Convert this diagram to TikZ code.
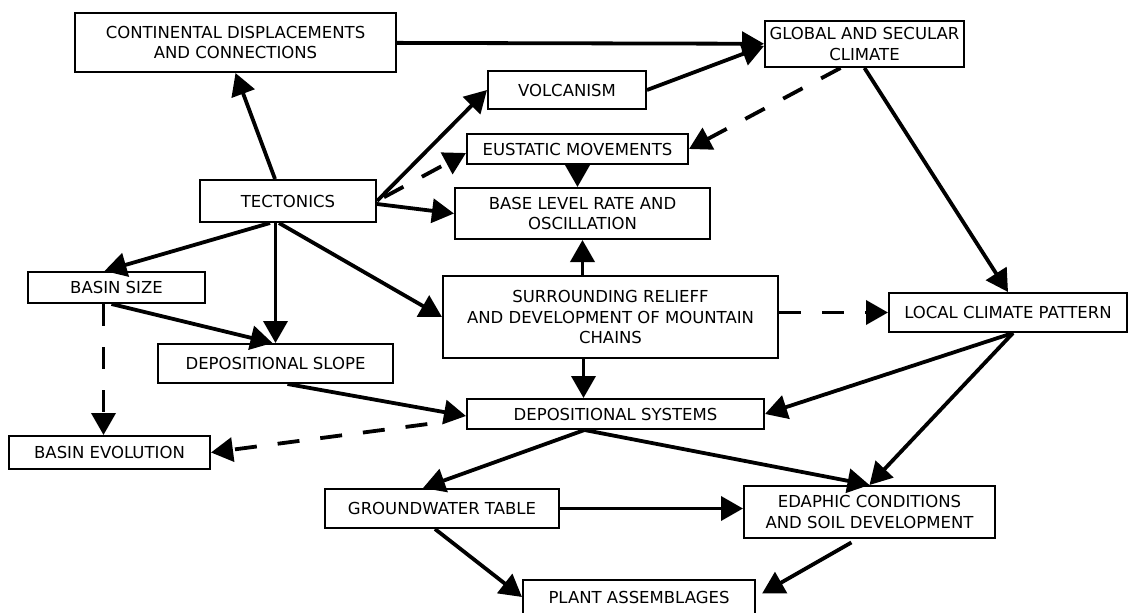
\documentclass[tikz,border=0pt]{standalone}
\usepackage{fontspec}
\setmainfont{DejaVu Sans}
\usetikzlibrary{arrows.meta}

\begin{document}
\begin{tikzpicture}[x=1pt,y=-1pt,
square/.style={
% The shape:
rectangle,
draw=black,
line width=2pt,
inner sep=0pt,
align=center,
font=\fontsize{16.5}{20.5}\selectfont
},
link/.style={
line width=3.8pt,
-{Triangle[length=22pt,width=24pt]}
},
dash link/.style={
link,
dash pattern=on 22pt off 21pt
}
]
\useasboundingbox (0,0) rectangle (1128,613);
% Top row:
\node (cont) [square,minimum width=321pt,minimum height=59pt] at (235.5,42.5) {CONTINENTAL DISPLACEMENTS\\AND CONNECTIONS};
\node (glob) [square,minimum width=199pt,minimum height=46pt] at (864.5,44) {GLOBAL AND SECULAR\\CLIMATE};
\node (volc) [square,minimum width=158pt,minimum height=38pt] at (567,90) {VOLCANISM};
\node (eust) [square,minimum width=221pt,minimum height=30pt] at (577.5,149) {EUSTATIC MOVEMENTS};
% Middle rows:
\node (tect) [square,minimum width=176pt,minimum height=42pt] at (288,201) {TECTONICS};
\node (base) [square,minimum width=255pt,minimum height=51pt] at (582.5,213.5) {BASE LEVEL RATE AND\\OSCILLATION};
\node (bsize) [square,minimum width=177pt,minimum height=31pt] at (116.5,287.5) {BASIN SIZE};
\node (surr) [square,minimum width=335pt,minimum height=82pt] at (610.5,317) {SURROUNDING RELIEFF\\AND DEVELOPMENT OF MOUNTAIN\\CHAINS};
\node (local) [square,minimum width=238pt,minimum height=39pt] at (1008,312.5) {LOCAL CLIMATE PATTERN};
\node (dslope) [square,minimum width=235pt,minimum height=39pt] at (275.5,363.5) {DEPOSITIONAL SLOPE};
\node (dsys) [square,minimum width=297pt,minimum height=30pt] at (615.5,414) {DEPOSITIONAL SYSTEMS};
\node (bevol) [square,minimum width=201pt,minimum height=33pt] at (109.5,452.5) {BASIN EVOLUTION};
% Bottom rows:
\node (ground) [square,minimum width=234pt,minimum height=39pt] at (442,508.5) {GROUNDWATER TABLE};
\node (edaph) [square,minimum width=251pt,minimum height=52pt] at (869.5,512) {EDAPHIC CONDITIONS\\AND SOIL DEVELOPMENT};
\node (plant) [square,minimum width=232pt,minimum height=34pt] at (639,597) {PLANT ASSEMBLAGES};
% Climate side:
\path (cont) edge[link] (glob);
\draw [link] (volc.east) -- ([yshift=-2pt]glob.west);
\draw [dash link] ([xshift=-24pt]glob.south) -- (eust.east);
\draw [link] (glob.south) -- (local.north);
% Tectonics:
\draw [link] ([xshift=-13pt]tect.north) -- (cont.south);
\draw [link] (tect.east) -- (volc.west);
\draw [dash link,shorten <=8pt] (tect.east) -- ([yshift=-4pt]eust.west);
\draw [link] ([yshift=-3pt]tect.east) -- (base.west);
\draw [link] ([xshift=-18pt]tect.south) -- ([xshift=-12pt]bsize.north);
\draw [link] (tect.south -| dslope.north) -- (dslope.north);
\draw [link] ([xshift=-9pt]tect.south) -- (surr.west);
% Base level and relief:
\draw [link] (eust.south) -- (eust.south |- base.north);
\draw [link] (base.south |- surr.north) -- (base.south);
\draw [dash link] (surr.east |- local.west) -- (local.west);
\draw [link] ([xshift=-27pt]surr.south) -- ([xshift=-27pt]surr.south |- dsys.north);
% Basin:
\draw [link] ([xshift=-5pt]bsize.south) -- ([xshift=-3pt]dslope.north);
\draw [dash link] ([xshift=-13pt]bsize.south) -- ([xshift=-13pt]bsize.south |- bevol.north);
\draw [link] ([xshift=12pt]dslope.south) -- ([yshift=-2pt]dsys.west);
\draw [dash link,shorten <=39pt] ([yshift=-5pt]dsys.west) -- (bevol.east);
% Depositional systems and below:
\draw [link] ([xshift=5pt]local.south) -- (dsys.east);
\draw [link] ([xshift=5pt]local.south) -- (edaph.north);
\draw [link] ([xshift=-31pt]dsys.south) -- ([xshift=-19pt]ground.north);
\draw [link] ([xshift=-31pt]dsys.south) -- (edaph.north);
\draw [link] (ground.east) -- (ground.east -| edaph.west);
\draw [link] ([xshift=-7pt]ground.south) -- (plant.west);
\draw [link,shorten <=7pt,shorten >=7pt] ([xshift=-12pt]edaph.south) -- (plant.east);
\end{tikzpicture}
\end{document}
